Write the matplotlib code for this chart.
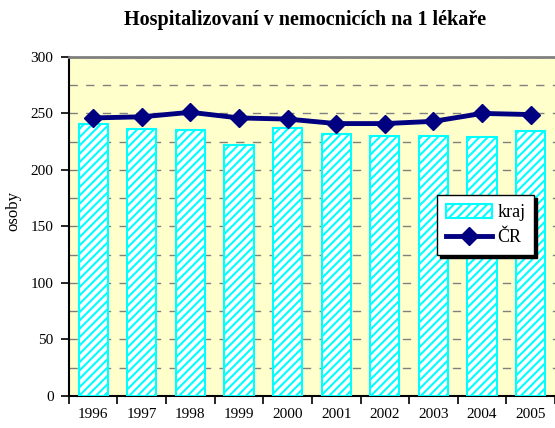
import numpy as np
import matplotlib.pyplot as plt
from matplotlib.patches import Patch
from matplotlib.lines import Line2D

years = ['1996', '1997', '1998', '1999', '2000', '2001', '2002', '2003', '2004', '2005']
kraj = [241, 236, 235, 222, 237, 232, 230, 230, 229, 234]
cr = [246, 247, 251, 246, 245, 241, 241, 243, 250, 249]

plt.rcParams['font.family'] = ['Liberation Serif', 'DejaVu Serif']
plt.rcParams['hatch.color'] = '#00FFFF'
plt.rcParams['hatch.linewidth'] = 1.5

fig = plt.figure(figsize=(5.55, 4.28), dpi=100)
ax = fig.add_axes([0.124, 0.075, 0.876, 0.792])
ax.set_facecolor('#FFFFCC')

x = np.arange(len(years))
ax.bar(x, kraj, width=0.6, color='white', edgecolor='#00FFFF', hatch='////', linewidth=1.5, zorder=3)
ax.plot(x, cr, color='#000080', linewidth=3.5, marker='D', markersize=9, zorder=4)

ax.set_xlim(-0.5, len(years) - 0.5)
ax.set_ylim(0, 300)
ax.set_yticks(np.arange(0, 301, 50))
ax.set_yticks(np.arange(0, 301, 25), minor=True)
ax.yaxis.grid(True, which='both', linestyle=(0, (6, 6)), color='#808080', linewidth=1, zorder=0)
ax.set_xticks(x)
ax.set_xticklabels(years, fontsize=11)
ax.set_xticks(np.arange(-0.5, len(years), 1), minor=True)
ax.tick_params(axis='x', which='major', length=0, pad=9)
ax.tick_params(axis='x', which='minor', length=6, direction='out', width=1.2)
ax.tick_params(axis='y', which='major', labelsize=11, length=6, width=1.2, direction='out', pad=5)
ax.tick_params(axis='y', which='minor', length=0)
ax.set_ylabel('osoby', fontsize=12)
ax.yaxis.set_label_coords(-0.097, 0.546)

for s in ['left', 'bottom']:
    ax.spines[s].set_linewidth(1.5)
    ax.spines[s].set_color('black')
ax.spines['top'].set_color('#808080')
ax.spines['top'].set_linewidth(2)
ax.spines['right'].set_visible(False)

fig.text(0.55, 0.953, 'Hospitalizovaní v nemocnicích na 1 lékaře', ha='center', va='center',
         fontsize=14.5, fontweight='bold')

handles = [Patch(facecolor='white', edgecolor='#00FFFF', hatch='////', linewidth=1.5, label='kraj'),
           Line2D([0], [0], color='#000080', linewidth=3.5, marker='D', markersize=9, label='ČR')]
leg = ax.legend(handles=handles, loc='upper left', bbox_to_anchor=(0.757, 0.593), fontsize=13,
                fancybox=False, shadow={'color': 'black', 'alpha': 1}, framealpha=1,
                edgecolor='black', borderpad=0.5, borderaxespad=0, handlelength=2.55,
                handleheight=0.8, labelspacing=0.45, handletextpad=0.3)
leg.get_frame().set_linewidth(1)

fig.savefig('out.png', dpi=100)
